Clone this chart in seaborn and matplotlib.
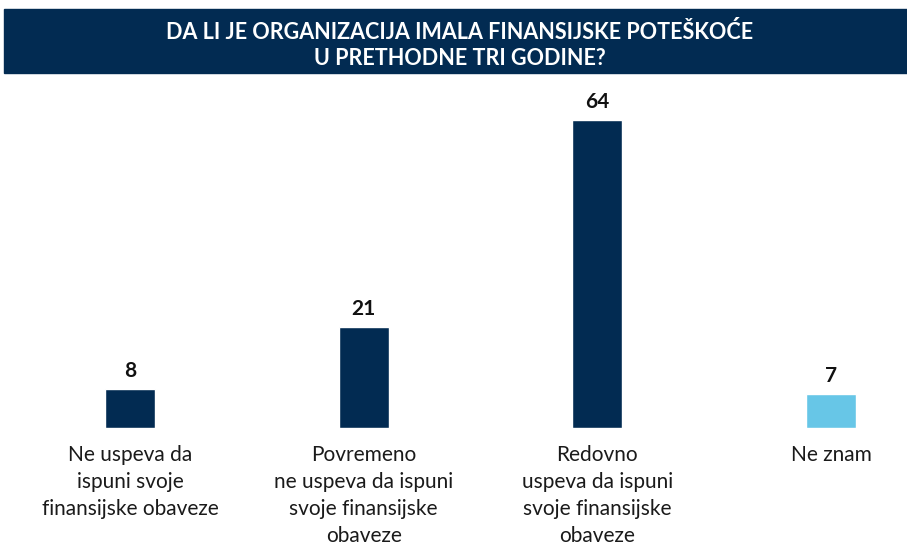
import matplotlib
matplotlib.use("Agg")
import matplotlib.pyplot as plt
import seaborn as sns
import pandas as pd
from matplotlib.patches import Rectangle

categories = [
    "Ne uspeva da\nispuni svoje\nfinansijske obaveze",
    "Povremeno\nne uspeva da ispuni\nsvoje finansijske\nobaveze",
    "Redovno\nuspeva da ispuni\nsvoje finansijske\nobaveze",
    "Ne znam",
]
values = [8, 21, 64, 7]
title = "DA LI JE ORGANIZACIJA IMALA FINANSIJSKE POTEŠKOĆE\nU PRETHODNE TRI GODINE?"

navy = "#022b52"
light = "#67c6e7"
colors = [navy, navy, navy, light]

df = pd.DataFrame({"cat": categories, "val": values})

sns.set_theme(style="white")
plt.rcParams["font.family"] = ["Lato", "DejaVu Sans"]

fig = plt.figure(figsize=(9.07, 5.46), dpi=100)
ax = fig.add_axes([0, 118 / 546, 1, 338 / 546])

sns.barplot(data=df, x="cat", y="val", hue="cat", palette=colors,
            legend=False, width=0.214, ax=ax, saturation=1)

ax.set_xlim(-0.556, 3.325)
ax.set_ylim(0, 70.2)
for i, v in enumerate(values):
    ax.annotate(str(v), (i, v), xytext=(0, 6), textcoords="offset points",
                ha="center", va="bottom", fontsize=15, fontweight="bold",
                color="#111111")

ax.set_xlabel("")
ax.set_ylabel("")
ax.set_yticks([])
ax.tick_params(axis="x", length=0, pad=12)
for lbl in ax.get_xticklabels():
    lbl.set_fontsize(15)
    lbl.set_color("#1a1a1a")
    lbl.set_linespacing(1.45)
sns.despine(ax=ax, left=True, bottom=True)

# title banner
fig.patches.append(Rectangle((4 / 907, 1 - 73 / 546), 903 / 907, 64 / 546,
                             transform=fig.transFigure, color=navy, zorder=0))
fig.text(460 / 907, 1 - 45 / 546, title, ha="center", va="center",
         color="white", fontsize=15.5, fontweight="bold", linespacing=1.3)

fig.savefig("out.png", dpi=100)
